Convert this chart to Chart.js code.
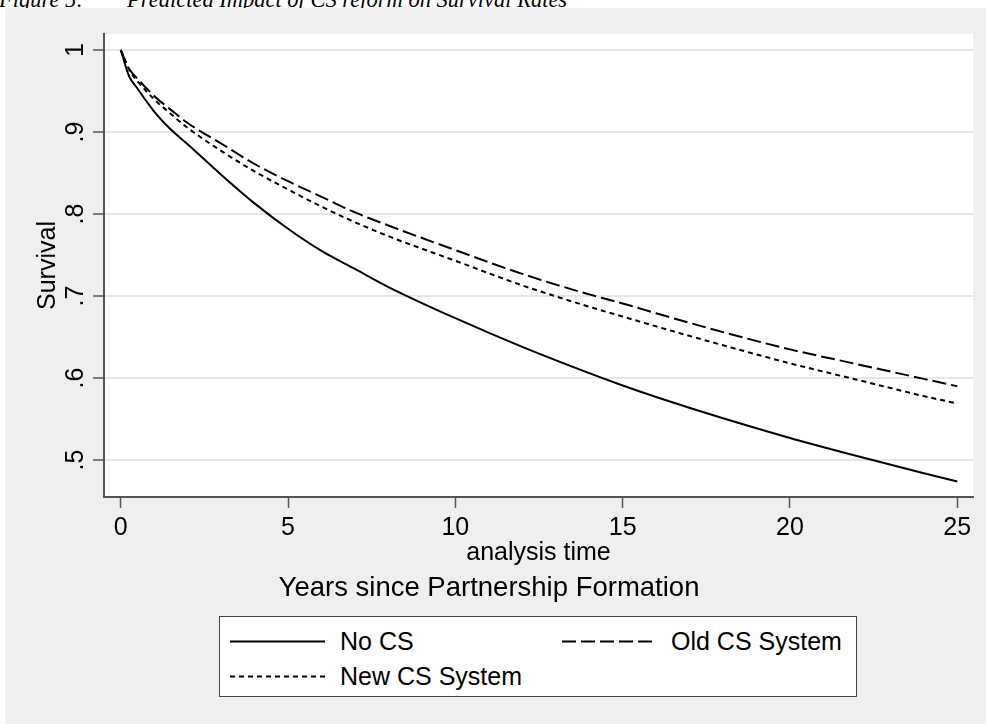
<!DOCTYPE html>
<html>
<head>
<meta charset="utf-8">
<script src="https://cdn.jsdelivr.net/npm/chart.js@4"></script>
<style>
  html, body { margin: 0; padding: 0; background: #fff; width: 986px; height: 724px; overflow: hidden; }
  body { position: relative; font-family: "Liberation Sans", Arial, sans-serif; }
  .fig-title { position: absolute; top: -11px; font-family: "Liberation Serif", "Times New Roman", serif; font-style: italic; font-size: 22.5px; line-height: 22.5px; white-space: nowrap; color: #000; }
  #panel { position: absolute; left: 5px; top: 8px; width: 981px; height: 716px; background: #efefef; }
  #chart { position: absolute; left: 0; top: 0; }
  #legend { position: absolute; left: 219px; top: 616px; width: 638px; height: 81px; box-sizing: border-box; border: 1px solid #444; background: #fff; }
  .lg-item { position: absolute; height: 30px; line-height: 30px; font-size: 25px; color: #000; white-space: nowrap; }
  .lg-item svg { position: absolute; top: 14px; }
</style>
</head>
<body>
<div class="fig-title" style="left:-1px;">Figure 5:</div>
<div class="fig-title" style="left:127px;">Predicted Impact of CS reform on Survival Rates</div>
<div id="panel"></div>
<canvas id="chart" width="986" height="605"></canvas>
<div id="legend"></div>

<script>
// survival estimates
const timeYears = [0, 0.25, 0.5, 1, 1.5, 2, 3, 4, 5, 6, 7, 8, 10, 12, 14, 15, 16, 18, 20, 22, 24, 25];
const noCS  = [1, 0.968, 0.953, 0.925, 0.903, 0.885, 0.848, 0.813, 0.782, 0.755, 0.733, 0.711, 0.673, 0.638, 0.606, 0.591, 0.577, 0.551, 0.527, 0.505, 0.484, 0.474];
const oldCS = [1, 0.977, 0.965, 0.944, 0.927, 0.911, 0.886, 0.861, 0.840, 0.821, 0.802, 0.786, 0.756, 0.727, 0.702, 0.691, 0.679, 0.656, 0.635, 0.617, 0.599, 0.590];
const newCS = [1, 0.976, 0.962, 0.940, 0.922, 0.905, 0.877, 0.852, 0.830, 0.809, 0.790, 0.773, 0.743, 0.713, 0.687, 0.675, 0.663, 0.640, 0.618, 0.598, 0.578, 0.569];

const xTicks = [0, 5, 10, 15, 20, 25];
const yTicks = [0.5, 0.6, 0.7, 0.8, 0.9, 1];
const yTickLabels = ['.5', '.6', '.7', '.8', '.9', '1'];

const seriesNames = ['No CS', 'Old CS System', 'New CS System'];
const seriesDash = [[], [14, 5], [5, 4]];

const FONT = '"Liberation Sans", Arial, sans-serif';
const AXIS = '#555';

function toPoints(vals) {
    return timeYears.map((t, i) => ({ x: t, y: vals[i] }));
}

// white plot region
const plotBg = {
    id: 'plotBg',
    beforeDraw(chart) {
        const a = chart.chartArea;
        const ctx = chart.ctx;
        ctx.save();
        ctx.fillStyle = '#fff';
        ctx.fillRect(a.left, a.top, a.right - a.left, a.bottom - a.top);
        ctx.restore();
    }
};

// Stata-style vertical y tick labels
const yLabels = {
    id: 'yLabels',
    afterDraw(chart) {
        const s = chart.scales.y;
        const ctx = chart.ctx;
        ctx.save();
        ctx.fillStyle = '#000';
        ctx.font = '25px ' + FONT;
        ctx.textAlign = 'center';
        ctx.textBaseline = 'alphabetic';
        yTicks.forEach((v, i) => {
            ctx.save();
            ctx.translate(83, s.getPixelForValue(v));
            ctx.rotate(-Math.PI / 2);
            ctx.fillText(yTickLabels[i], 0, 0);
            ctx.restore();
        });
        ctx.restore();
    }
};

new Chart(document.getElementById('chart'), {
    type: 'line',
    data: {
        datasets: [noCS, oldCS, newCS].map((vals, i) => ({
            label: seriesNames[i],
            data: toPoints(vals),
            borderColor: '#000',
            borderWidth: 2,
            borderDash: seriesDash[i],
            pointRadius: 0,
            fill: false,
            cubicInterpolationMode: 'monotone'
        }))
    },
    options: {
        responsive: false,
        animation: false,
        devicePixelRatio: 1,
        layout: { padding: { left: 5, top: 34, right: 13, bottom: 0 } },
        plugins: {
            legend: { display: false },
            tooltip: { enabled: false },
            title: {
                display: true,
                position: 'bottom',
                text: 'Years since Partnership Formation',
                color: '#000',
                font: { family: FONT, size: 27.5, weight: 'normal' },
                padding: { top: 0, bottom: 0 }
            }
        },
        scales: {
            x: {
                type: 'linear',
                min: -0.5,
                max: 25.47,
                afterBuildTicks: s => { s.ticks = xTicks.map(v => ({ value: v })); },
                afterFit: s => { s.height = 75; },
                ticks: { color: '#000', font: { family: FONT, size: 25 }, padding: 5, maxRotation: 0 },
                grid: { drawOnChartArea: false, drawTicks: true, tickLength: 11, tickColor: AXIS, tickWidth: 1.5 },
                border: { display: true, color: AXIS, width: 2 },
                title: { display: true, text: 'analysis time', color: '#000', font: { family: FONT, size: 25 }, padding: { top: 0, bottom: 4 } }
            },
            y: {
                type: 'linear',
                min: 0.455,
                max: 1.0195,
                afterBuildTicks: s => { s.ticks = yTicks.map(v => ({ value: v })); },
                afterFit: s => { s.width = 99; },
                ticks: { color: 'rgba(0,0,0,0)', font: { family: FONT, size: 25 }, padding: 5 },
                grid: { color: '#e6e6e6', lineWidth: 2, drawTicks: true, tickLength: 11, tickColor: AXIS, tickWidth: 1.5 },
                border: { display: true, color: AXIS, width: 2 },
                title: { display: true, text: 'Survival', color: '#000', font: { family: FONT, size: 25 }, padding: { top: 28, bottom: 0 } }
            }
        }
    },
    plugins: [plotBg, yLabels]
});

// legend box, two columns like the original
const legendPos = [
    { line: [10, 105], text: 120, top: 9 },
    { line: [342, 437], text: 451, top: 9 },
    { line: [10, 105], text: 120, top: 44 }
];
const legend = document.getElementById('legend');
seriesNames.forEach((name, i) => {
    const p = legendPos[i];
    const item = document.createElement('div');
    item.className = 'lg-item';
    item.style.left = p.line[0] + 'px';
    item.style.top = p.top + 'px';
    const w = p.line[1] - p.line[0];
    item.innerHTML = `<svg width="${w}" height="3" style="left:0"><line x1="0" y1="1.5" x2="${w}" y2="1.5" stroke="#000" stroke-width="2" stroke-dasharray="${seriesDash[i].join(' ') || 'none'}"/></svg>` +
        `<span style="position:absolute; left:${p.text - p.line[0]}px;">${name}</span>`;
    legend.appendChild(item);
});
</script>
</body>
</html>
